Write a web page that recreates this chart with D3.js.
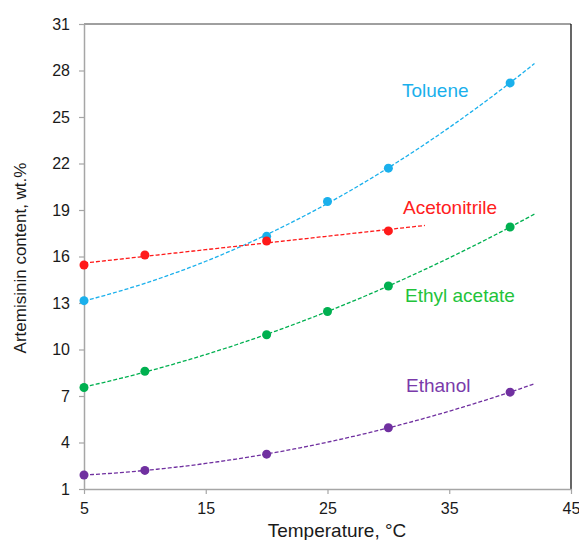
<!DOCTYPE html>
<html lang="en">
<head>
    <meta charset="UTF-8">
    <title>Artemisinin solubility</title>
    <script src="https://d3js.org/d3.v7.min.js"></script>
    <style>
        body { margin: 0; background: #fff; }
        text { font-family: "Liberation Sans", Arial, sans-serif; }
    </style>
</head>
<body>
<svg width="579" height="540"></svg>
<script>
    // values
    let tolueneT = [5, 20, 25, 30, 40]
    let tolueneW = [13.15, 17.3, 19.55, 21.7, 27.2]
    let acetonitrileT = [5, 10, 20, 30]
    let acetonitrileW = [15.45, 16.1, 17.0, 17.65]
    let ethylT = [5, 10, 20, 25, 30, 40]
    let ethylW = [7.55, 8.6, 10.95, 12.45, 14.1, 17.9]
    let ethanolT = [5, 10, 20, 30, 40]
    let ethanolW = [1.9, 2.2, 3.25, 4.95, 7.25]
    let xTicks = [5, 15, 25, 35, 45]
    let yTicks = [1, 4, 7, 10, 13, 16, 19, 22, 25, 28, 31]

    let series = [
        {name: "Toluene", t: tolueneT, w: tolueneW, color: "#1ab0ec", label: "#1ab0ec", fitTo: 42, deg: 2, lx: 402, ly: 97},
        {name: "Acetonitrile", t: acetonitrileT, w: acetonitrileW, color: "#ff1a1a", label: "#ff2020", fitTo: 33, deg: 1, lx: 403, ly: 214},
        {name: "Ethyl acetate", t: ethylT, w: ethylW, color: "#00b050", label: "#22c33a", fitTo: 42, deg: 2, lx: 405, ly: 302},
        {name: "Ethanol", t: ethanolT, w: ethanolW, color: "#7030a0", label: "#7a3aaa", fitTo: 42, deg: 2, lx: 406, ly: 392}
    ]

    let svg = d3.select('svg')
    let mLeft = 84, mRight = 571, mTop = 24, mBottom = 489

    let x = d3.scaleLinear().domain([5, 45]).range([mLeft, mRight])
    let y = d3.scaleLinear().domain([1, 31]).range([mBottom, mTop])

    // least squares polynomial fit (trend line)
    function polyfit(xs, ys, deg) {
        let n = deg + 1
        let A = d3.range(n).map(() => d3.range(n + 1).map(() => 0))
        for (let k = 0; k < xs.length; k++) {
            for (let i = 0; i < n; i++) {
                for (let j = 0; j < n; j++) A[i][j] += Math.pow(xs[k], i + j)
                A[i][n] += ys[k] * Math.pow(xs[k], i)
            }
        }
        for (let i = 0; i < n; i++) {
            for (let r = i + 1; r < n; r++) {
                let f = A[r][i] / A[i][i]
                for (let c = i; c <= n; c++) A[r][c] -= f * A[i][c]
            }
        }
        let coef = new Array(n).fill(0)
        for (let i = n - 1; i >= 0; i--) {
            let s = A[i][n]
            for (let j = i + 1; j < n; j++) s -= A[i][j] * coef[j]
            coef[i] = s / A[i][i]
        }
        return v => coef.reduce((acc, c, i) => acc + c * Math.pow(v, i), 0)
    }

    // frame: top and right dark
    svg.append("line").attr("x1", mLeft).attr("x2", mRight).attr("y1", mTop).attr("y2", mTop)
        .attr("stroke", "#404040").attr("stroke-width", 1)
    svg.append("line").attr("x1", mRight).attr("x2", mRight).attr("y1", mTop).attr("y2", mBottom)
        .attr("stroke", "#000").attr("stroke-width", 1.2)

    let yAxis = svg.append("g")
        .attr("transform", `translate(${mLeft},0)`)
        .call(d3.axisLeft(y).tickValues(yTicks).tickSize(5).tickPadding(7).tickSizeOuter(0))
    let xAxis = svg.append("g")
        .attr("transform", `translate(0,${mBottom})`)
        .call(d3.axisBottom(x).tickValues(xTicks).tickSize(5).tickPadding(6).tickSizeOuter(0))

    ;[xAxis, yAxis].forEach(function(g) {
        g.select(".domain").attr("stroke", "#a6a6a6").attr("stroke-width", 1.5)
        g.selectAll(".tick line").attr("stroke", "#a6a6a6").attr("stroke-width", 1.2)
        g.selectAll(".tick text").attr("fill", "#1a1a1a").style("font-size", "16px")
            .style("font-family", '"Liberation Sans", Arial, sans-serif')
    })
    xAxis.selectAll(".tick text").attr("dy", "0.85em")
    yAxis.selectAll(".tick text").attr("dx", "-2px")

    svg.append("text")
        .attr("x", 337).attr("y", 537)
        .attr("text-anchor", "middle")
        .attr("fill", "#1a1a1a").style("font-size", "19px")
        .text("Temperature, °C")

    svg.append("text")
        .attr("transform", `translate(26,258) rotate(-90)`)
        .attr("text-anchor", "middle")
        .attr("fill", "#1a1a1a").style("font-size", "17px")
        .text("Artemisinin content, wt.%")

    let line = d3.line().x(d => x(d[0])).y(d => y(d[1]))

    series.forEach(function(s) {
        let f = polyfit(s.t, s.w, s.deg)
        let pts = d3.range(5, s.fitTo + 0.01, 0.25).map(v => [v, f(v)])
        svg.append("path")
            .attr("d", line(pts))
            .attr("fill", "none")
            .attr("stroke", s.color)
            .attr("stroke-width", 1.3)
            .attr("stroke-dasharray", "4,2")

        svg.append("g").selectAll("circle")
            .data(s.t.map((t, i) => [t, s.w[i]]))
            .enter()
            .append("circle")
            .attr("cx", d => x(d[0]))
            .attr("cy", d => y(d[1]))
            .attr("r", 4.5)
            .attr("fill", s.color)

        svg.append("text")
            .attr("x", s.lx).attr("y", s.ly)
            .attr("fill", s.label)
            .style("font-size", "19px")
            .text(s.name)
    })
</script>
</body>
</html>
